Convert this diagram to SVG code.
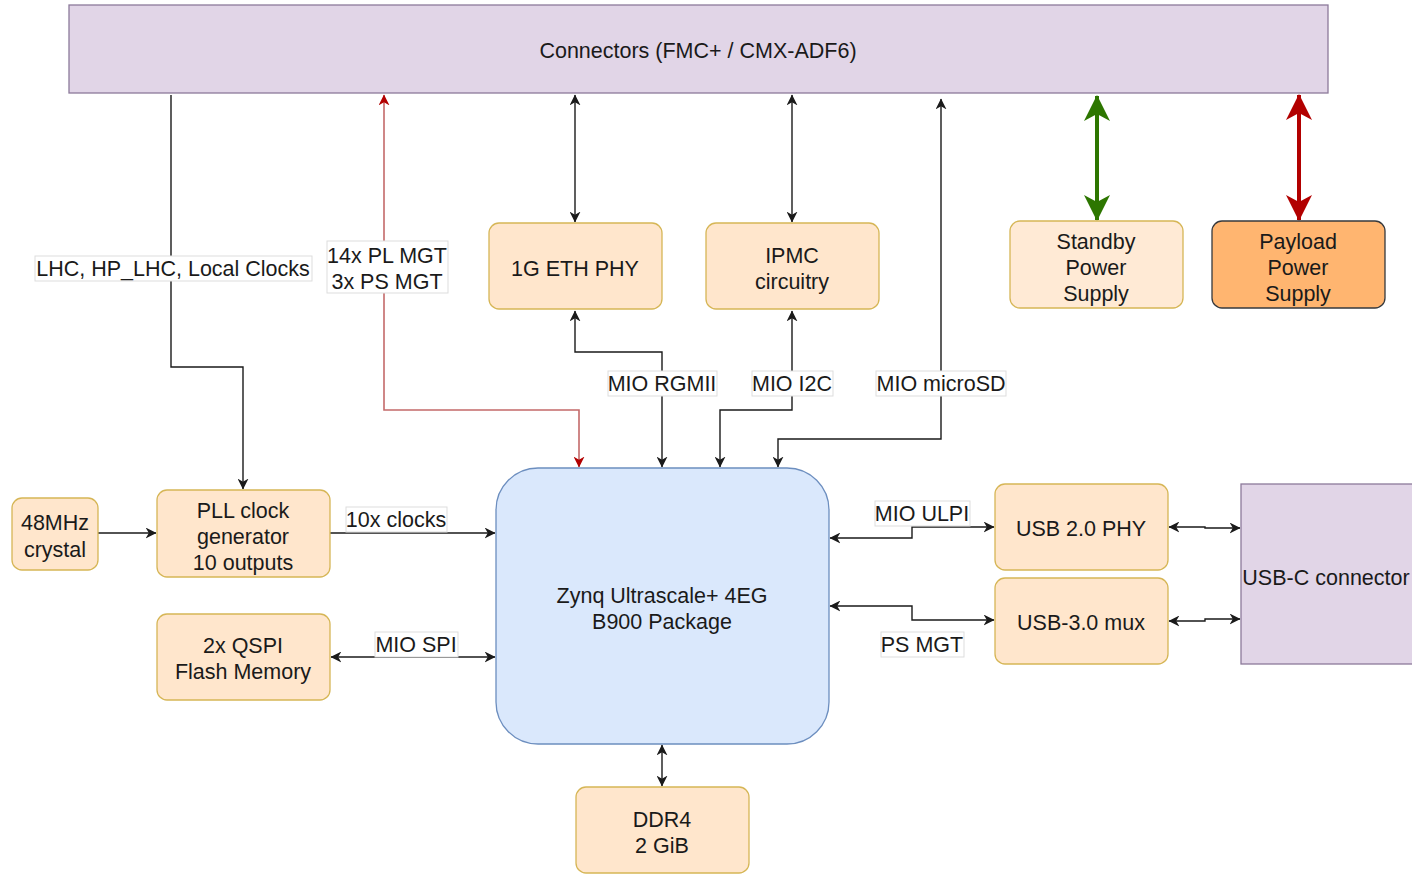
<svg xmlns="http://www.w3.org/2000/svg" width="1412" height="875" viewBox="0 0 1412 875">
<style>
text{font-family:"Liberation Sans",Arial,sans-serif;font-size:21.5px;fill:#1a1a1a;text-anchor:middle}
.box{fill:#ffe6cc;stroke:#d6b656;stroke-width:1.3}
.lbl{fill:#fff;stroke:#dddddd;stroke-width:1}
.c{fill:none;stroke:#1a1a1a;stroke-width:1.4}
.cr{fill:none;stroke:#c46a6a;stroke-width:1.6}
.tg{fill:none;stroke:#2d7600;stroke-width:4}
.tr{fill:none;stroke:#b20000;stroke-width:4}
</style>
<defs>
<marker id="a" viewBox="0 0 10 10" refX="9.5" refY="5" markerWidth="11" markerHeight="11" markerUnits="userSpaceOnUse" orient="auto-start-reverse"><path d="M0,0 L10,5 L0,10 L3,5 z" fill="#1a1a1a"/></marker>
<marker id="ar" viewBox="0 0 10 10" refX="9.5" refY="5" markerWidth="11" markerHeight="11" markerUnits="userSpaceOnUse" orient="auto-start-reverse"><path d="M0,0 L10,5 L0,10 L3,5 z" fill="#b20000"/></marker>
<marker id="ag" viewBox="0 0 26 26" refX="25" refY="13" markerWidth="26" markerHeight="26" markerUnits="userSpaceOnUse" orient="auto-start-reverse"><path d="M0,0 L26,13 L0,26 L7,13 z" fill="#2d7600"/></marker>
<marker id="at" viewBox="0 0 26 26" refX="25" refY="13" markerWidth="26" markerHeight="26" markerUnits="userSpaceOnUse" orient="auto-start-reverse"><path d="M0,0 L26,13 L0,26 L7,13 z" fill="#b20000"/></marker>
</defs>

<g id="connectors">
<path class="c" d="M171,95 V367 H243 V489" marker-end="url(#a)"/>
<path class="cr" d="M384,95 V410 H579 V467" marker-start="url(#ar)" marker-end="url(#ar)"/>
<path class="c" d="M575,95 V222" marker-start="url(#a)" marker-end="url(#a)"/>
<path class="c" d="M792,95 V222" marker-start="url(#a)" marker-end="url(#a)"/>
<path class="c" d="M778,467 V439 H941 V99" marker-start="url(#a)" marker-end="url(#a)"/>
<path class="c" d="M662,467 V352 H575 V311" marker-start="url(#a)" marker-end="url(#a)"/>
<path class="c" d="M792,311 V410 H720 V467" marker-start="url(#a)" marker-end="url(#a)"/>
<path class="tg" d="M1097,96 V220" marker-start="url(#ag)" marker-end="url(#ag)"/>
<path class="tr" d="M1299,95 V220" marker-start="url(#at)" marker-end="url(#at)"/>
<path class="c" d="M98,533 H156" marker-end="url(#a)"/>
<path class="c" d="M330,533 H495" marker-end="url(#a)"/>
<path class="c" d="M331,657 H495" marker-start="url(#a)" marker-end="url(#a)"/>
<path class="c" d="M662,745 V786" marker-start="url(#a)" marker-end="url(#a)"/>
<path class="c" d="M830,538 H912 V527 H994" marker-start="url(#a)" marker-end="url(#a)"/>
<path class="c" d="M830,606 H912 V620 H994" marker-start="url(#a)" marker-end="url(#a)"/>
<path class="c" d="M1169,527 H1205 V528 H1240" marker-start="url(#a)" marker-end="url(#a)"/>
<path class="c" d="M1169,621 H1205 V619 H1240" marker-start="url(#a)" marker-end="url(#a)"/>
</g>

<g id="labels">
<rect class="lbl" x="35" y="256" width="277" height="25"/><text x="173" y="276">LHC, HP_LHC, Local Clocks</text>
<rect class="lbl" x="327" y="241" width="121" height="52"/><text x="387" y="263">14x PL MGT</text><text x="387" y="289">3x PS MGT</text>
<rect class="lbl" x="608" y="371" width="109" height="25"/><text x="662" y="391">MIO RGMII</text>
<rect class="lbl" x="752" y="371" width="81" height="25"/><text x="792" y="391">MIO I2C</text>
<rect class="lbl" x="876" y="371" width="130" height="25"/><text x="941" y="391">MIO microSD</text>
<rect class="lbl" x="346" y="507" width="101" height="25"/><text x="396" y="527">10x clocks</text>
<rect class="lbl" x="375" y="632" width="83" height="25"/><text x="416" y="652">MIO SPI</text>
<rect class="lbl" x="875" y="501" width="95" height="25"/><text x="922" y="521">MIO ULPI</text>
<rect class="lbl" x="881" y="632" width="83" height="25"/><text x="922" y="652">PS MGT</text>
</g>

<g id="conn"><rect x="69" y="5" width="1259" height="88" fill="#e1d5e7" stroke="#8c7a9a" stroke-width="1.3"/><text x="698" y="58">Connectors (FMC+ / CMX-ADF6)</text></g>
<g id="eth"><rect class="box" x="489" y="223" width="173" height="86" rx="10"/><text x="575" y="276">1G ETH PHY</text></g>
<g id="ipmc"><rect class="box" x="706" y="223" width="173" height="86" rx="10"/><text x="792" y="263">IPMC</text><text x="792" y="289">circuitry</text></g>
<g id="standby"><rect x="1010" y="221" width="173" height="87" rx="10" fill="#ffead5" stroke="#d6b656" stroke-width="1.3"/><text x="1096" y="249">Standby</text><text x="1096" y="275">Power</text><text x="1096" y="301">Supply</text></g>
<g id="payload"><rect x="1212" y="221" width="173" height="87" rx="10" fill="#ffb570" stroke="#36393d" stroke-width="1.3"/><text x="1298" y="249">Payload</text><text x="1298" y="275">Power</text><text x="1298" y="301">Supply</text></g>
<g id="crystal"><rect class="box" x="12" y="498" width="86" height="72" rx="10"/><text x="55" y="530">48MHz</text><text x="55" y="557">crystal</text></g>
<g id="pll"><rect class="box" x="157" y="490" width="173" height="87" rx="10"/><text x="243" y="518">PLL clock</text><text x="243" y="544">generator</text><text x="243" y="570">10 outputs</text></g>
<g id="qspi"><rect class="box" x="157" y="614" width="173" height="86" rx="10"/><text x="243" y="653">2x QSPI</text><text x="243" y="679">Flash Memory</text></g>
<g id="zynq"><rect x="496" y="468" width="333" height="276" rx="42" fill="#dae8fc" stroke="#6c8ebf" stroke-width="1.3"/><text x="662" y="603">Zynq Ultrascale+ 4EG</text><text x="662" y="629">B900 Package</text></g>
<g id="ddr"><rect class="box" x="576" y="787" width="173" height="86" rx="10"/><text x="662" y="827">DDR4</text><text x="662" y="853">2 GiB</text></g>
<g id="usb2"><rect class="box" x="995" y="484" width="173" height="86" rx="10"/><text x="1081" y="536">USB 2.0 PHY</text></g>
<g id="usb3"><rect class="box" x="995" y="578" width="173" height="86" rx="10"/><text x="1081" y="630">USB-3.0 mux</text></g>
<g id="usbc"><rect x="1241" y="484" width="173" height="180" fill="#e1d5e7" stroke="#8c7a9a" stroke-width="1.3"/><text x="1326" y="585">USB-C connector</text></g>
</svg>
